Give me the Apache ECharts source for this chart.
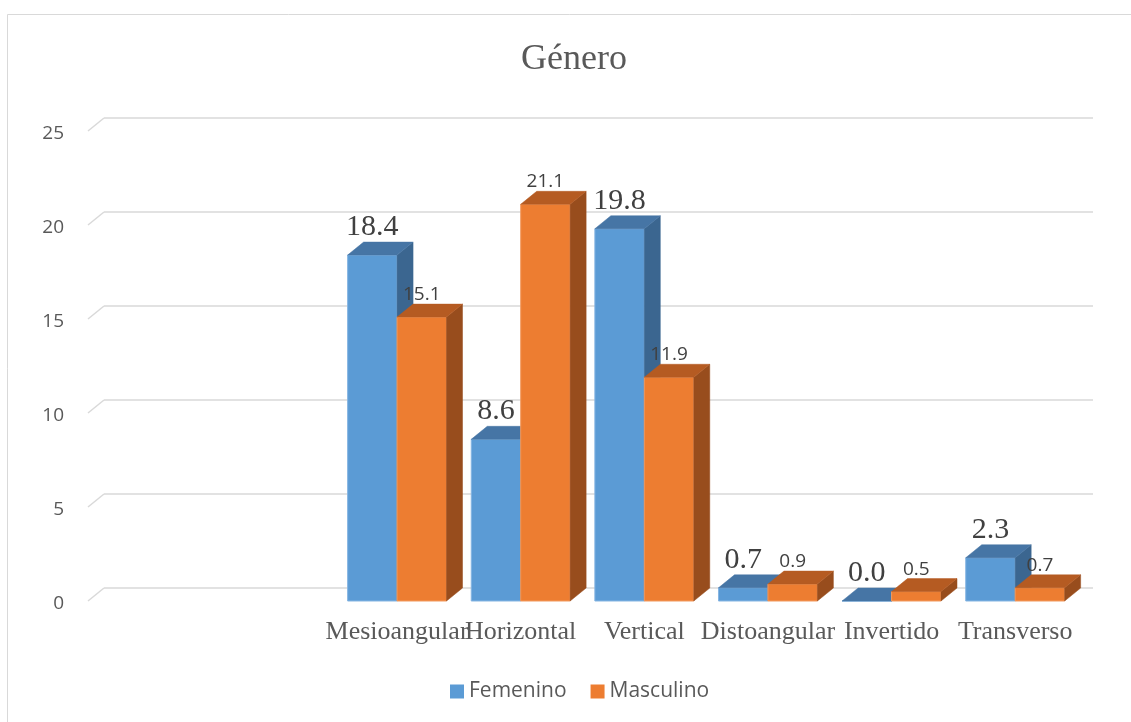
<!DOCTYPE html>
<html>
<head>
<meta charset="utf-8">
<script src="https://cdn.jsdelivr.net/npm/echarts@6/dist/echarts.min.js"></script>
<style>
  html, body { margin: 0; padding: 0; background: #ffffff; }
  #chart { width: 1131px; height: 722px; }
</style>
</head>
<body>
<div id="chart"></div>
<script>
// Categories (the first two slots are empty in the workbook)
const categories = ['', '', 'Mesioangular', 'Horizontal', 'Vertical', 'Distoangular', 'Invertido', 'Transverso'];
const femenino  = [null, null, 18.4, 8.6, 19.8, 0.7, 0.0, 2.3];
const masculino = [null, null, 15.1, 21.1, 11.9, 0.9, 0.5, 0.7];
const yTicks = [0, 5, 10, 15, 20, 25];

// Depth offset of the pseudo-3D columns and the back wall
const DX = 16, DY = -13;

const chart = echarts.init(document.getElementById('chart'), null, { renderer: 'canvas' });

function columnRenderer(side, c, labelFont) {
  return function (params, api) {
    const v = api.value(1);
    if (v == null || isNaN(v)) return;
    const idx = api.value(0);
    const top = api.coord([idx, v]);
    const base = api.coord([idx, 0]);
    const band = api.size([1, 0])[0];
    const w = band * 0.4;
    const x0 = side === 'left' ? top[0] - w : top[0];
    const yT = top[1], yB = base[1];
    return {
      type: 'group',
      children: [
        { type: 'rect', shape: { x: x0, y: yT, width: w, height: yB - yT },
          style: { fill: c.front, stroke: c.edge, lineWidth: 1 } },
        { type: 'polygon', shape: { points: [[x0 + w, yT], [x0 + w, yB], [x0 + w + DX, yB + DY], [x0 + w + DX, yT + DY]] },
          style: { fill: c.side, stroke: c.side, lineWidth: 0.5 } },
        { type: 'polygon', shape: { points: [[x0, yT], [x0 + w, yT], [x0 + w + DX, yT + DY], [x0 + DX, yT + DY]] },
          style: { fill: c.top, stroke: c.top, lineWidth: 0.5 } },
        { type: 'text', z2: 10,
          style: { text: v.toFixed(1), x: x0 + w / 2, y: yT + DY - labelFont.gap,
                   align: 'center', verticalAlign: 'bottom',
                   fontSize: labelFont.size, fontFamily: labelFont.family, fill: '#404040' } }
      ]
    };
  };
}

const blue = { front: '#5B9BD5', top: '#4675A5', side: '#3B6690', edge: '#86B5E2' };
const orange = { front: '#ED7D31', top: '#B55B22', side: '#984D1D', edge: '#F29A5F' };

const option = {
  backgroundColor: '#ffffff',
  animation: false,
  title: {
    text: 'Género',
    left: 516, top: 37,
    textStyle: { fontFamily: 'Liberation Serif', fontSize: 36, fontWeight: 'normal', color: '#595959' }
  },
  legend: {
    data: ['Femenino', 'Masculino'],
    left: 445, top: 676,
    icon: 'rect', itemWidth: 14, itemHeight: 14, itemGap: 24,
    textStyle: { fontFamily: 'Open Sans', fontSize: 21, color: '#595959' }
  },
  graphic: [
    { type: 'rect', shape: { x: 7.5, y: 14.5, width: 1300, height: 800 },
      style: { fill: null, stroke: '#D9D9D9', lineWidth: 1 }, z: -10 }
  ],
  grid: [
    { left: 88, right: 54, top: 131, bottom: 121 },   // front plane (columns, labels)
    { left: 104, right: 38, top: 118, bottom: 134 }   // back wall (gridlines)
  ],
  xAxis: [
    { type: 'category', gridIndex: 0, data: categories,
      axisLine: { show: false }, axisTick: { show: false },
      axisLabel: { interval: 0, margin: 18, fontFamily: 'Liberation Serif', fontSize: 26, color: '#595959' } },
    { type: 'value', gridIndex: 1, min: 0, max: 1, show: false }
  ],
  yAxis: [
    { type: 'value', gridIndex: 0, min: 0, max: 25, interval: 5,
      axisLine: { show: false }, axisTick: { show: false }, splitLine: { show: false },
      axisLabel: {
        margin: 24,
        formatter: v => '{t|' + v + '}',
        rich: { t: { padding: [6, 0, 0, 0], fontFamily: 'Open Sans', fontSize: 19, color: '#595959' } }
      } },
    { type: 'value', gridIndex: 1, min: 0, max: 25, interval: 5,
      axisLine: { show: false }, axisTick: { show: false }, axisLabel: { show: false },
      splitLine: { show: true, lineStyle: { color: '#D9D9D9', width: 1.5 } } }
  ],
  series: [
    { // floor/side-wall edges joining front and back gridlines
      type: 'custom', xAxisIndex: 1, yAxisIndex: 1, silent: true, clip: false, z: 1,
      data: yTicks.map(t => [0, t]),
      renderItem: function (params, api) {
        const p = api.coord([0, api.value(1)]);
        return { type: 'line', shape: { x1: p[0] - DX, y1: p[1] - DY, x2: p[0], y2: p[1] },
                 style: { stroke: '#D9D9D9', lineWidth: 1.5 } };
      }
    },
    { name: 'Femenino', type: 'custom', xAxisIndex: 0, yAxisIndex: 0, clip: false, z: 2,
      itemStyle: { color: blue.front },
      encode: { x: 0, y: 1 },
      data: femenino.map((v, i) => [i, v]),
      renderItem: columnRenderer('left', blue, { size: 30, family: 'Liberation Serif', gap: 0 })
    },
    { name: 'Masculino', type: 'custom', xAxisIndex: 0, yAxisIndex: 0, clip: false, z: 3,
      itemStyle: { color: orange.front },
      encode: { x: 0, y: 1 },
      data: masculino.map((v, i) => [i, v]),
      renderItem: columnRenderer('right', orange, { size: 19, family: 'Open Sans', gap: 0 })
    }
  ]
};

chart.setOption(option);
</script>
</body>
</html>
